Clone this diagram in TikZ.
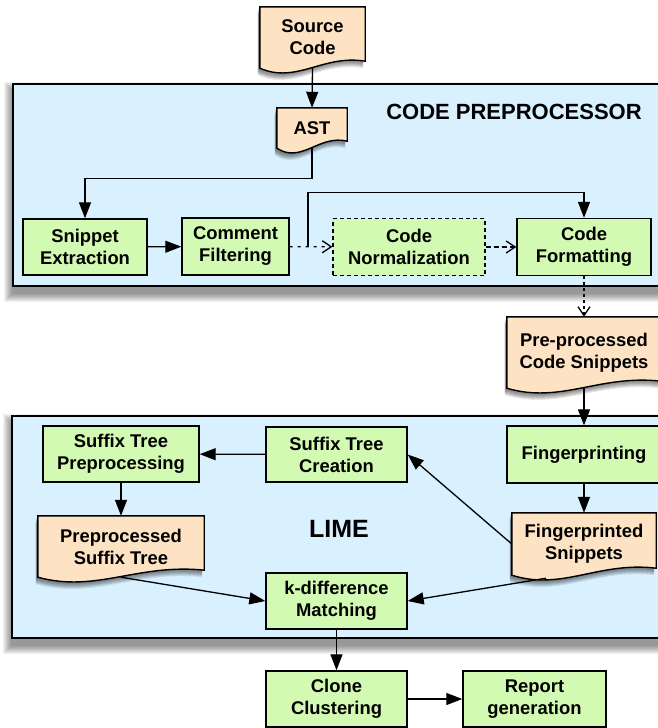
\documentclass[tikz,border=0pt]{standalone}
\usepackage{fontspec}
\setmainfont{Liberation Sans}
\usetikzlibrary{arrows.meta,calc}

\definecolor{groupblue}{RGB}{217,240,254}
\definecolor{stepgreen}{RGB}{211,250,178}
\definecolor{docpeach}{RGB}{253,227,195}

\pgfdeclarelayer{bg}
\pgfdeclarelayer{mid}
\pgfsetlayers{bg,mid,main}

% document outline with wavy bottom
\newcommand\docpath[1]{(#1.north west) -- (#1.north east) -- ([yshift=7pt]#1.south east)
    .. controls ($(#1.south west)!0.6!(#1.south east)+(0,-14)$)
    and ($(#1.south west)!0.35!(#1.south east)+(0,16)$) .. (#1.south west) -- cycle}

\begin{document}
\begin{tikzpicture}[x=1pt,y=-1pt,
  every node/.style={font=\fontsize{18.4}{22}\selectfont\bfseries, align=center, inner sep=0pt},
  stepbox/.style={draw, line width=1.4pt, fill=stepgreen},
  optbox/.style={stepbox, dash pattern=on 4pt off 3pt, line width=1.2pt},
  group/.style={draw, line width=1.5pt, fill=groupblue},
  docshape/.style={draw, line width=1.4pt, fill=docpeach},
  grouptitle/.style={font=\fontsize{22}{26}\selectfont\bfseries},
  arr/.style={line width=1.3pt, -{Triangle[length=16pt,width=12pt]}},
  optarr/.style={line width=1.3pt, -{Straight Barb[length=9pt,width=12pt,line width=1.3pt]}},
]
\useasboundingbox (0,0) rectangle (657,728);

% containers
\begin{pgfonlayer}{bg}
\coordinate (prepnw) at (13,84);
\coordinate (limenw) at (12,416);
\foreach \g/\h in {prep/202,lime/222}
  \foreach \s in {1,...,9}
    \fill[black, fill opacity=0.055] ($(\g nw)+(-\s,7-\s)$) rectangle ($(\g nw)+(680+\s,\h+7+\s)$);
\node[group, minimum width=680, minimum height=202] (prep) at (353,185) {};
\node[group, minimum width=680, minimum height=222] (lime) at (352,527) {};
\end{pgfonlayer}
\node[grouptitle] (preptitle) at (514,112) {CODE PREPROCESSOR};
\node[grouptitle, font=\fontsize{25}{29}\selectfont\bfseries] (limetitle) at (339,529) {LIME};

% documents
\node[minimum width=105, minimum height=61] (src) at (312.5,37.5) {Source\\Code};
\node[minimum width=70, minimum height=40] (ast) at (312,128) {AST};
\node[minimum width=154, minimum height=71] (pps) at (584,352.5) {Pre-processed\\Code Snippets};
\node[minimum width=166, minimum height=61] (pst) at (121,546.5) {Preprocessed\\Suffix Tree};
\node[minimum width=144, minimum height=62] (fps) at (584,544) {Fingerprinted\\Snippets};
\begin{pgfonlayer}{mid}
\foreach \d in {src,ast,pps,pst,fps}{
  \foreach \s in {2,...,7}
    \fill[black, fill opacity=0.09, transform canvas={xshift=-2pt, yshift=-\s pt}] \docpath{\d};
  \path[docshape] \docpath{\d};
}
\end{pgfonlayer}

% steps
\node[stepbox, minimum width=124, minimum height=56] (snip) at (85,247) {Snippet\\Extraction};
\node[stepbox, minimum width=107, minimum height=57] (cmt) at (235.5,246.5) {Comment\\Filtering};
\node[optbox, minimum width=152, minimum height=57] (norm) at (409,247) {Code\\Normalization};
\node[stepbox, minimum width=134, minimum height=57] (fmt) at (584,247) {Code\\Formatting};
\node[stepbox, minimum width=156, minimum height=56] (stp) at (121,454) {Suffix Tree\\Preprocessing};
\node[stepbox, minimum width=141, minimum height=55] (stc) at (336.5,454.5) {Suffix Tree\\Creation};
\node[stepbox, minimum width=154, minimum height=57] (fpr) at (584,454.5) {Fingerprinting};
\node[stepbox, minimum width=141, minimum height=56] (kdm) at (336.5,601) {k-difference\\Matching};
\node[stepbox, minimum width=141, minimum height=56] (clc) at (336.5,699) {Clone\\Clustering};
\node[stepbox, minimum width=143, minimum height=56] (rep) at (534.5,699) {Report\\generation};

\coordinate (byp) at ($(cmt.east)!0.43!(norm.west)$);

% connectors
\path[draw,arr] (src.south) -- (ast.north);
\path[draw,arr] (ast.south) -- ++(0,30) -| (snip.north);
\path[draw,arr] (snip) -- (cmt);
\path[draw,optarr,dash pattern=on 3pt off 5pt] (cmt) -- (norm);
\path[draw,arr] (byp) -- ++(0,-54) -| (fmt.north);
\path[draw,optarr,dash pattern=on 5pt off 3pt] (norm) -- (fmt);
\path[draw,optarr,dash pattern=on 3pt off 3pt] (fmt) -- (pps);
\path[draw,arr] (pps.south) -- (fpr.north);
\path[draw,arr] (fpr) -- (fps);
\path[draw,arr] (stc) -- (stp);
\path[draw,arr] (stp) -- (pst);
\path[draw,arr] (fps.west) -- (stc.east);
\path[draw,arr] (pst.south) -- (kdm.west);
\path[draw,arr] ([xshift=-38pt,yshift=-3pt]fps.south) -- (kdm.east);
\path[draw,arr] (kdm) -- (clc);
\path[draw,arr] (clc) -- (rep);
\end{tikzpicture}
\end{document}
